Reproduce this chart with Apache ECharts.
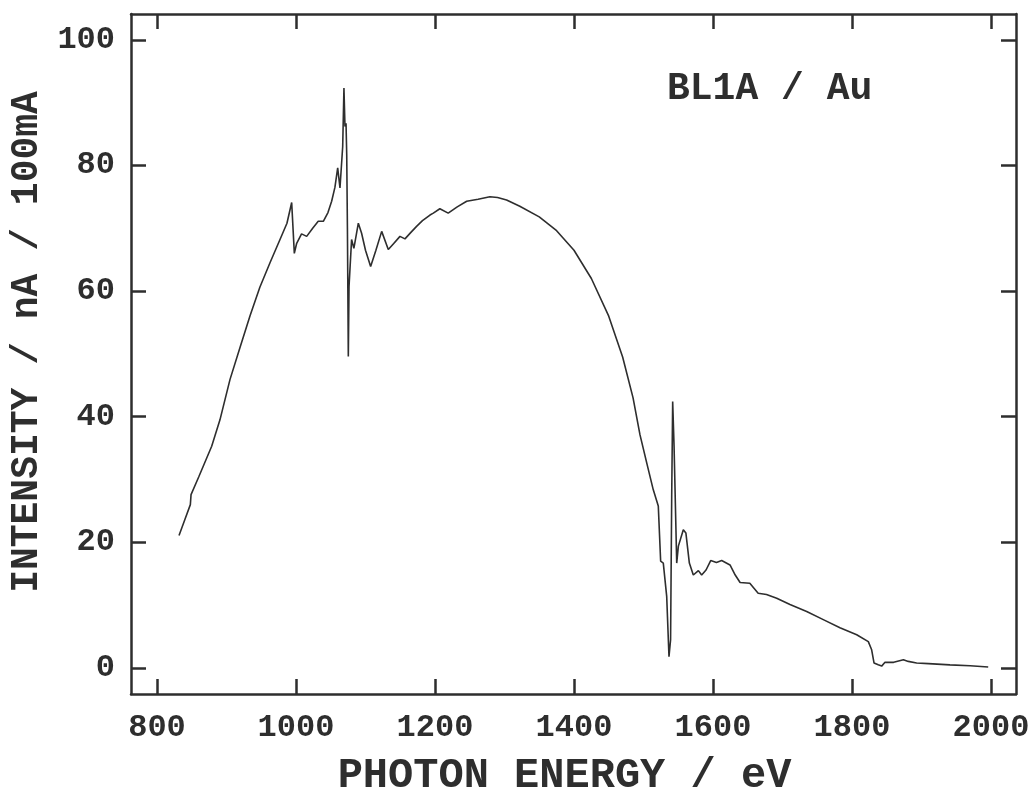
<!DOCTYPE html>
<html>
<head>
<meta charset="utf-8">
<script src="https://cdn.jsdelivr.net/npm/echarts@6/dist/echarts.min.js"></script>
<style>html,body{margin:0;padding:0;background:#fff;}#chart{width:1033px;height:792px;}</style>
</head>
<body>
<div id="chart"></div>
<script>
// Photon energy (eV) and intensity (nA / 100mA)
const energy = [
  831.7, 840, 848, 849, 850.8, 860, 867.6, 878.7, 890.6, 905, 920, 934, 948, 962.6, 977, 987, 993.8,
  997.6, 1001, 1008, 1015.4, 1024, 1032, 1039.3, 1046, 1051.3, 1056, 1060, 1063.3, 1067.2, 1069,
  1070.5, 1072, 1073, 1074, 1075.3, 1076.3, 1080, 1083.3, 1089.7, 1094.4, 1100, 1107.4, 1115,
  1123.3, 1132.8, 1140, 1149.6, 1156.8, 1165, 1173.5, 1182, 1192.8, 1197.6, 1207, 1219, 1232,
  1245.6, 1262, 1279, 1290, 1303, 1322, 1350, 1375, 1400, 1425, 1450, 1470, 1485, 1495, 1505,
  1514, 1521.3, 1523.5, 1524.7, 1528.5, 1533.4, 1536.7, 1539, 1540.6, 1542, 1544, 1547.8, 1550.2,
  1557.3, 1561, 1566, 1571.7, 1579, 1583.7, 1590, 1596.7, 1605, 1612.5, 1624.5, 1632, 1639, 1653,
  1665, 1677, 1691.7, 1710.8, 1734.8, 1758.7, 1782.7, 1806.8, 1823.5, 1828.3, 1831.7, 1837.8,
  1842.7, 1847.5, 1860, 1874, 1881, 1893, 1910, 1941, 1970, 1996
];
const intensity = [
  21.1, 23.6, 26.0, 27.6, 27.9, 30.4, 32.4, 35.3, 39.5, 45.9, 51.2, 56.1, 60.6, 64.5, 68.2, 70.8, 74.1,
  66.0, 67.6, 69.1, 68.7, 70.0, 71.1, 71.1, 72.5, 74.3, 76.5, 79.6, 76.4, 83.0, 92.3,
  86.2, 86.7, 81.7, 70.0, 49.6, 60.7, 68.2, 66.8, 70.8, 69.2, 66.5, 63.9, 66.5,
  69.5, 66.6, 67.5, 68.7, 68.3, 69.3, 70.3, 71.2, 72.1, 72.4, 73.1, 72.4, 73.4,
  74.3, 74.6, 75.0, 74.9, 74.5, 73.5, 71.8, 69.6, 66.5, 62.0, 56.0, 49.5, 43.0, 37.1, 32.5,
  28.4, 25.8, 25.8, 17.0, 16.7, 11.4, 1.8, 4.5, 27.3, 42.4, 35.3, 16.7, 19.4,
  22.0, 21.5, 16.7, 14.8, 15.5, 14.8, 15.6, 17.1, 16.8, 17.1, 16.4, 14.8, 13.6, 13.5,
  11.9, 11.7, 11.1, 10.1, 9.0, 7.7, 6.4, 5.3, 4.2, 2.9, 0.8, 0.5,
  0.3, 0.9, 0.9, 1.3, 1.05, 0.8, 0.7, 0.5, 0.35, 0.16
];
const xTicks = [800, 1000, 1200, 1400, 1600, 1800, 2000];
const yTicks = [0, 20, 40, 60, 80, 100];
const xTitle = 'PHOTON ENERGY / eV';
const yTitle = 'INTENSITY / nA / 100mA';
const label = 'BL1A / Au';

const ink = '#2e2e2e';
const font = '"Liberation Mono", "Courier New", monospace';
const plain = v => String(v);
const axisBase = {
  axisLine: {show: true, onZero: false, lineStyle: {color: ink, width: 2.5}},
  axisTick: {show: true, inside: true, length: 15, lineStyle: {color: ink, width: 2.5}},
  splitLine: {show: false}
};
const chart = echarts.init(document.getElementById('chart'), null, {renderer: 'canvas'});
chart.setOption({
  animation: false,
  backgroundColor: '#ffffff',
  grid: {left: 131, right: 17, top: 14, bottom: 98, containLabel: false, outerBoundsMode: 'none'},
  xAxis: [
    Object.assign({}, axisBase, {
      type: 'value', position: 'bottom', min: 762.6, max: 2036,
      axisTick: Object.assign({}, axisBase.axisTick, {customValues: xTicks}),
      axisLabel: {customValues: xTicks, formatter: plain, color: ink, fontFamily: font, fontWeight: 'bold', fontSize: 32, margin: 18},
      name: xTitle, nameLocation: 'middle', nameGap: 61,
      nameTextStyle: {color: ink, fontFamily: font, fontWeight: 'bold', fontSize: 42, padding: [0, 18, 0, 0]}
    }),
    Object.assign({}, axisBase, {
      type: 'value', position: 'top', min: 762.6, max: 2036,
      axisTick: Object.assign({}, axisBase.axisTick, {customValues: xTicks}),
      axisLabel: {show: false}
    })
  ],
  yAxis: [
    Object.assign({}, axisBase, {
      type: 'value', position: 'left', min: -4.14, max: 104.1,
      axisTick: Object.assign({}, axisBase.axisTick, {customValues: yTicks}),
      axisLabel: {customValues: yTicks, formatter: plain, color: ink, fontFamily: font, fontWeight: 'bold', fontSize: 32, margin: 16},
      name: yTitle, nameLocation: 'middle', nameGap: 82, nameRotate: 90,
      nameTextStyle: {color: ink, fontFamily: font, fontWeight: 'bold', fontSize: 38, padding: [0, 0, 0, 24]}
    }),
    Object.assign({}, axisBase, {
      type: 'value', position: 'right', min: -4.14, max: 104.1,
      axisTick: Object.assign({}, axisBase.axisTick, {customValues: yTicks}),
      axisLabel: {show: false}
    })
  ],
  graphic: [{
    type: 'text', left: 667, top: 70,
    style: {text: label, fill: ink, font: 'bold 38px ' + font}
  }],
  series: [{
    type: 'line',
    xAxisIndex: 0, yAxisIndex: 0,
    data: energy.map((e, i) => [e, intensity[i]]),
    showSymbol: false, smooth: false,
    lineStyle: {color: ink, width: 1.6}
  }]
});
</script>
</body>
</html>
